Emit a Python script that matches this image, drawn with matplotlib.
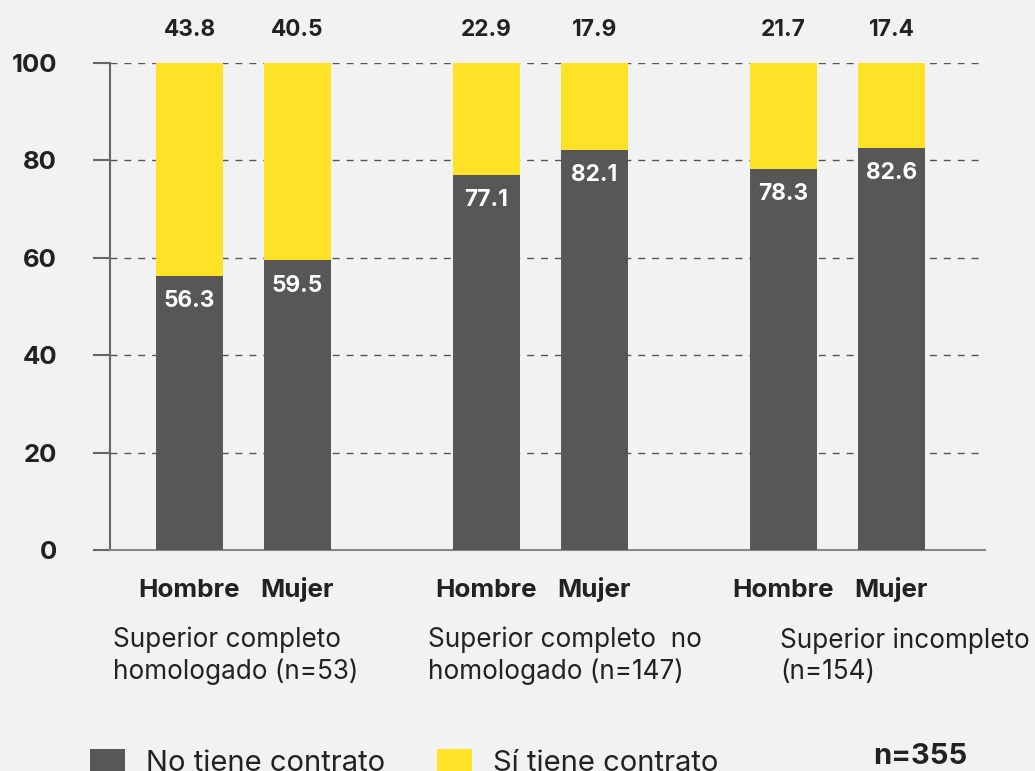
import matplotlib
matplotlib.use("Agg")
import matplotlib.pyplot as plt
from matplotlib.patches import Patch

# data
grupos = ["Superior completo\nhomologado (n=53)",
          "Superior completo  no\nhomologado (n=147)",
          "Superior incompleto\n(n=154)"]
sexos = ["Hombre", "Mujer", "Hombre", "Mujer", "Hombre", "Mujer"]
no_contrato = [56.3, 59.5, 77.1, 82.1, 78.3, 82.6]
si_contrato = [43.8, 40.5, 22.9, 17.9, 21.7, 17.4]
yticks = [0, 20, 40, 60, 80, 100]
total_n = "n=355"

gris = "#575757"
amarillo = "#fde227"
fondo = "#f2f2f2"
texto = "#222222"

plt.rcParams["font.family"] = ["Inter", "DejaVu Sans"]

W, H = 1035, 771
fig = plt.figure(figsize=(W / 100, H / 100), dpi=100, facecolor=fondo)
ax = fig.add_axes([110 / W, 1 - 550 / H, 875 / W, 487 / H])
ax.set_facecolor(fondo)

xpos = [0, 1, 2.75, 3.75, 5.5, 6.5]
ancho = 0.62
ax.bar(xpos, no_contrato, width=ancho, color=gris, zorder=3)
ax.bar(xpos, si_contrato, width=ancho, bottom=no_contrato, color=amarillo, zorder=3)

for x, n, s in zip(xpos, no_contrato, si_contrato):
    ax.text(x, n - 5.2, "{:.1f}".format(n), ha="center", va="center",
            color="white", fontsize=16.3, fontweight="bold", zorder=4)
    ax.text(x, 106.8, "{:.1f}".format(s), ha="center", va="center",
            color=texto, fontsize=16.3, fontweight="bold", clip_on=False)

ax.set_xlim(-0.736, 7.366)
ax.set_ylim(0, 100)
ax.set_yticks(yticks)
ax.set_yticklabels([str(v) for v in yticks], fontsize=18.5, fontweight="bold", color=texto)
ax.set_xticks([])
ax.tick_params(axis="y", length=12, width=1.5, color="#666666", pad=26)
ax.grid(axis="y", linestyle=(0, (5, 5)), color="#555555", linewidth=1, zorder=0)

# etiquetas de sexo bajo cada barra
trans = ax.get_xaxis_transform()
for x, s in zip(xpos, sexos):
    ax.text(x, -47 / 487, s, transform=trans, ha="center", va="baseline",
            fontsize=18.7, fontweight="bold", color=texto, clip_on=False)

for side in ["top", "right"]:
    ax.spines[side].set_visible(False)
ax.spines["left"].set_color("#666666")
ax.spines["left"].set_linewidth(1.5)
ax.spines["bottom"].set_color("#888888")
ax.spines["bottom"].set_linewidth(1.5)

# nombres de grupo (baseline de la segunda linea)
gx = [113 / W, 428 / W, 780 / W]
for x, g in zip(gx, grupos):
    fig.text(x, 1 - 679 / H, g, ha="left", va="baseline", fontsize=18.8,
             color=texto, linespacing=1.27)

handles = [Patch(facecolor=gris, label="No tiene contrato"),
           Patch(facecolor=amarillo, label="Sí tiene contrato")]
fig.legend(handles=handles, loc="center left", bbox_to_anchor=(0.062, 1 - 763 / H),
           ncol=2, frameon=False, fontsize=21, handlelength=1.2,
           handleheight=0.85, handletextpad=0.7, columnspacing=1.8,
           labelcolor=texto)
fig.text(873 / W, 1 - 757 / H, total_n, ha="left", va="center",
         fontsize=21, fontweight="bold", color=texto)

fig.savefig("out.png", dpi=100, facecolor=fondo)
